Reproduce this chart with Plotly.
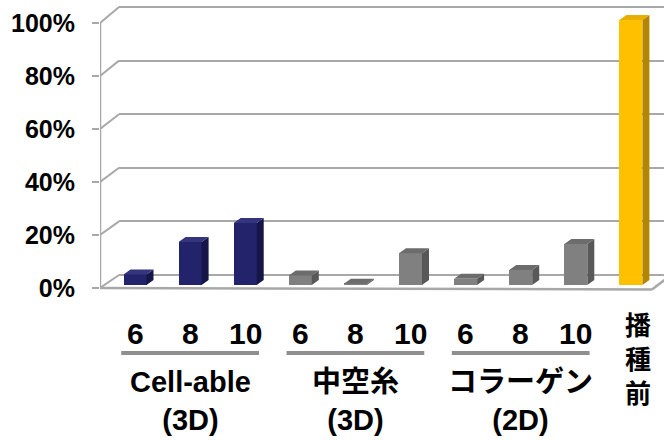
import plotly.graph_objects as go

# ---------------- data ----------------
tick_labels = ["6", "8", "10", "6", "8", "10", "6", "8", "10"]
group_labels = ["Cell-able<br>(3D)", "中空糸<br>(3D)", "コラーゲン<br>(2D)"]
before_label = "播<br>種<br>前"
cellable_values = [4.0, 16.2, 23.4]
hollow_values = [3.6, 0.5, 12.0]
collagen_values = [2.4, 5.7, 15.5]
before_values = [100.0]
y_ticks = [0, 20, 40, 60, 80, 100]
y_tick_text = ["0%", "20%", "40%", "60%", "80%", "100%"]

# ---------------- layout constants (pixels) ----------------
W, H = 664, 440
ML, MR, MT, MB = 100, 0, 0, 140
PLOT_H = H - MT - MB
PX_X0, PX_PER_CAT = 135.0, 55.1        # bar centre of first category, spacing
BAR0_PX, PX_PER_PCT = 285.0, 2.65      # bar scale
FRONT0_PX, FRONT_PER = 288.0, 2.65     # front (tick) scale
BACK0_PX, BACK_PER = 275.0, 2.68       # back wall scale
BACK_LEFT_PX = 119.0


def x_from_px(p):
    return (p - PX_X0) / PX_PER_CAT


def y_from_px(p):
    return (BAR0_PX - p) / PX_PER_PCT


def paper_y(p):
    return (PLOT_H - p) / PLOT_H


x_range = [x_from_px(ML), x_from_px(W - MR)]
y_range = [y_from_px(MT + PLOT_H), y_from_px(MT)]
front_range = [(FRONT0_PX - PLOT_H) / FRONT_PER, FRONT0_PX / FRONT_PER]
back_range = [(BACK0_PX - PLOT_H) / BACK_PER, BACK0_PX / BACK_PER]

bar_w = 23 / PX_PER_CAT
dx = 7 / PX_PER_CAT
dy = 5 / PX_PER_PCT

series = [
    (cellable_values, 0, ("#23236C", "#151548", "#34347F")),
    (hollow_values, 3, ("#808080", "#585858", "#6C6C6C")),
    (collagen_values, 6, ("#808080", "#585858", "#6C6C6C")),
    (before_values, 9, ("#FFC000", "#B38600", "#E8AE00")),
]

fig = go.Figure()
# dummy trace so the back-wall subplot exists
fig.add_trace(go.Scatter(x=[None], y=[None], xaxis="x", yaxis="y",
                         showlegend=False, hoverinfo="skip"))

for vals, start, (c_front, c_side, c_top) in series:
    xs = [start + k for k in range(len(vals))]
    fig.add_trace(go.Bar(x=xs, y=vals, width=bar_w, xaxis="x2", yaxis="y2",
                         marker=dict(color=c_front, line=dict(width=0)),
                         showlegend=False, hoverinfo="skip"))
    sx, sy, tx, ty = [], [], [], []
    for c, v in zip(xs, vals):
        L, R = c - bar_w / 2, c + bar_w / 2
        sx += [R, R + dx, R + dx, R, R, None]
        sy += [0, dy, v + dy, v, 0, None]
        tx += [L, L + dx, R + dx, R, L, None]
        ty += [v, v + dy, v + dy, v, v, None]
    fig.add_trace(go.Scatter(x=sx, y=sy, xaxis="x2", yaxis="y2", mode="lines",
                             fill="toself", fillcolor=c_side, line=dict(width=0),
                             showlegend=False, hoverinfo="skip"))
    fig.add_trace(go.Scatter(x=tx, y=ty, xaxis="x2", yaxis="y2", mode="lines",
                             fill="toself", fillcolor=c_top, line=dict(width=0),
                             showlegend=False, hoverinfo="skip"))

fig.add_trace(go.Scatter(x=[None], y=[None], xaxis="x2", yaxis="y3",
                         showlegend=False, hoverinfo="skip"))

# ---------------- wall / floor shapes ----------------
grid_col = "#A8A8A8"
shapes = []
for g in y_ticks:
    fy = y_from_px(FRONT0_PX - FRONT_PER * g)
    by = y_from_px(BACK0_PX - BACK_PER * g)
    shapes.append(dict(type="line", xref="x2", yref="y2", layer="below",
                       x0=x_from_px(ML), y0=fy, x1=x_from_px(BACK_LEFT_PX), y1=by,
                       line=dict(color=grid_col, width=2)))
# front axis line
shapes.append(dict(type="line", xref="x2", yref="y2", layer="below",
                   x0=x_from_px(ML), y0=y_from_px(FRONT0_PX),
                   x1=x_from_px(ML), y1=y_from_px(FRONT0_PX - FRONT_PER * 100),
                   line=dict(color=grid_col, width=2.5)))
# front floor edge + right diagonal
shapes.append(dict(type="line", xref="x2", yref="y2", layer="below",
                   x0=x_from_px(ML), y0=y_from_px(FRONT0_PX),
                   x1=x_from_px(652), y1=y_from_px(FRONT0_PX + 1.5),
                   line=dict(color=grid_col, width=2.5)))
shapes.append(dict(type="line", xref="x2", yref="y2", layer="below",
                   x0=x_from_px(652), y0=y_from_px(FRONT0_PX + 1.5),
                   x1=x_from_px(652 + 19), y1=y_from_px(BACK0_PX),
                   line=dict(color=grid_col, width=2.5)))
# group underlines
for gi in range(3):
    shapes.append(dict(type="line", xref="x2", yref="paper",
                       x0=gi * 3 - 0.25, x1=gi * 3 + 2 + 0.25,
                       y0=paper_y(353), y1=paper_y(353),
                       line=dict(color="#8F8F8F", width=4)))

# ---------------- annotations ----------------
lat = "Liberation Sans, Arial, Noto Sans CJK JP"
jp = "Noto Sans CJK JP, Liberation Sans"
ann = []
for i, t in enumerate(tick_labels):
    ann.append(dict(x=i, y=paper_y(333), xref="x2", yref="paper", text=t,
                    showarrow=False, xanchor="center", yanchor="middle",
                    font=dict(family=lat, size=30, color="black", weight="bold")))
for gi, t in enumerate(group_labels):
    ann.append(dict(x=gi * 3 + 1, y=paper_y(401), xref="x2", yref="paper", text=t,
                    showarrow=False, xanchor="center", yanchor="middle",
                    font=dict(family=lat, size=29, color="black", weight="bold")))
ann.append(dict(x=9, y=paper_y(357), xref="x2", yref="paper", text=before_label,
                showarrow=False, xanchor="center", yanchor="middle", xshift=7,
                font=dict(family=jp, size=26, color="black", weight="bold")))

fig.update_layout(
    width=W, height=H, template="none",
    margin=dict(l=ML, r=MR, t=MT, b=MB, pad=0),
    paper_bgcolor="white", plot_bgcolor="rgba(0,0,0,0)",
    showlegend=False, bargap=0,
    xaxis=dict(domain=[(BACK_LEFT_PX - ML) / (W - ML - MR), 1], range=[0, 1],
               visible=False, fixedrange=True),
    yaxis=dict(domain=[0, 1], range=back_range, anchor="x",
               showgrid=True, gridcolor=grid_col, gridwidth=2, tickvals=y_ticks,
               showticklabels=False, ticks="", zeroline=False, showline=False,
               fixedrange=True),
    xaxis2=dict(domain=[0, 1], range=x_range, anchor="y2", visible=False,
                fixedrange=True),
    yaxis2=dict(domain=[0, 1], range=y_range, anchor="x2", visible=False,
                fixedrange=True),
    yaxis3=dict(overlaying="y2", anchor="x2", side="left", range=front_range,
                tickmode="array", tickvals=y_ticks, ticktext=y_tick_text,
                showgrid=False, zeroline=False,
                showline=False, ticks="outside", ticklen=7, tickwidth=2,
                tickcolor=grid_col, ticklabelstandoff=12,
                tickfont=dict(family=lat, size=25, color="black", weight="bold"),
                fixedrange=True),
    shapes=shapes, annotations=ann,
)

fig.write_html("out.html", config={"displayModeBar": False},
               post_script="document.body.style.margin='0px';")
